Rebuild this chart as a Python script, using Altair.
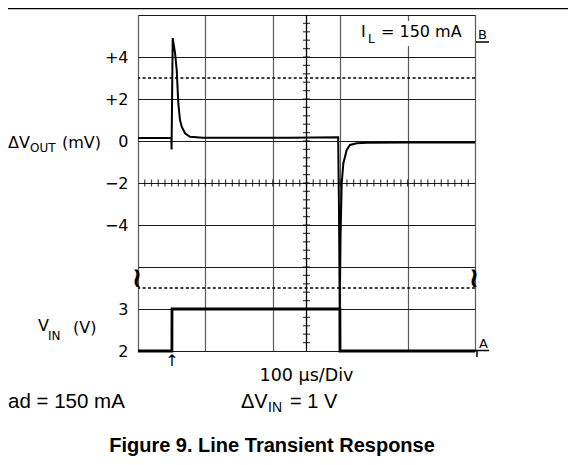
import altair as alt
import pandas as pd

# ---------------- data ----------------
# Delta V_OUT trace : time (us) / mV
out_t = [0, 50, 99.0, 99.6, 101.5, 103.0, 109.8, 114.8, 119.6, 124.6, 129.7, 139.5,
         154.3, 193.0, 300, 450, 594.0, 596.5, 598.5, 601.0, 604.5, 609.4, 619.3,
         629.0, 649.0, 678.6, 800, 1000]
out_mv = [0.14, 0.14, 0.14, -0.40, 2.60, 4.90, 4.20, 3.40, 1.80, 1.00, 0.68, 0.37,
          0.20, 0.16, 0.15, 0.16, 0.18, -3.50, -8.00, -4.50, -2.00, -1.06, -0.43,
          -0.19, -0.11, -0.08, -0.07, -0.07]
# V_IN trace : time (us) / V
in_t = [0, 100.6, 100.9, 599.0, 599.4, 1000]
in_v = [2.0, 2.0, 3.0, 3.0, 2.0, 2.0]

# graticule: 10 divisions of 100 us, 8 divisions (2 mV/div upper, 1 V/div lower)
x_grid = [0, 100, 200, 300, 400, 500, 600, 700, 800, 900, 1000]
y_grid = [0, 1, 2, 3, 4, 5, 6, 7, 8]
y_labels = ["2", "3", "", "\u22124", "\u22122", "0", "+2", "+4", ""]
dotted_mv = [3.0]
dotted_v = [3.5]

W, H = 337, 336
FONT = "DejaVu Sans"

out_df = pd.DataFrame({"t": out_t, "mv": out_mv, "i": range(len(out_t))})
in_df = pd.DataFrame({"t": in_t, "v": in_v, "i": range(len(in_t))})

xs = alt.Scale(domain=[0, 1000], nice=False, zero=False)
ys = alt.Scale(domain=[0, 8], nice=False, zero=False)

label_expr = "''"
for v, lab in reversed(list(zip(y_grid, y_labels))):
    label_expr = f"datum.value == {v} ? '{lab}' : ({label_expr})"

vin_line = alt.Chart(in_df).transform_calculate(
    div="datum.v - 2"
).mark_line(color="black", strokeWidth=2.8).encode(
    x=alt.X("t:Q", scale=xs, axis=alt.Axis(values=x_grid, grid=True, gridColor="#5a5a5a",
                                           gridWidth=1.2, labels=False, ticks=False,
                                           domain=False, title=None)),
    y=alt.Y("div:Q", scale=ys, axis=alt.Axis(values=y_grid, grid=True, gridColor="#1a1a1a",
                                             gridWidth=1.2, ticks=False, domain=False,
                                             labelExpr=label_expr, labelFont=FONT,
                                             labelFontSize=16, labelColor="black",
                                             labelPadding=10, title=None)),
    order="i:Q",
)

vout_line = alt.Chart(out_df).transform_calculate(
    div="5 + datum.mv / 2"
).mark_line(color="black", strokeWidth=2).encode(
    x=alt.X("t:Q", scale=xs), y=alt.Y("div:Q", scale=ys), order="i:Q"
)

dot_df = pd.DataFrame({"div": [5 + m / 2 for m in dotted_mv] + [v - 2 for v in dotted_v]})
dotted = alt.Chart(dot_df).mark_rule(color="black", strokeWidth=1.7, strokeDash=[3, 2.4]).encode(
    y=alt.Y("div:Q", scale=ys)
)

# minor ticks of the centre graticule lines (0.2 division)
cy_df = pd.DataFrame({"t": [500] * 39, "div": [k * 0.2 for k in range(1, 40)]})
cx_df = pd.DataFrame({"t": [k * 20 for k in range(1, 50)], "div": [4] * 49})
ticks_v = alt.Chart(cy_df).mark_tick(orient="horizontal", size=7, thickness=1.3, color="black").encode(
    x=alt.X("t:Q", scale=xs), y=alt.Y("div:Q", scale=ys))
ticks_h = alt.Chart(cx_df).mark_tick(orient="vertical", size=7, thickness=1.3, color="black").encode(
    x=alt.X("t:Q", scale=xs), y=alt.Y("div:Q", scale=ys))
centre_v = alt.Chart(pd.DataFrame({"t": [500]})).mark_rule(color="black", strokeWidth=1.3).encode(
    x=alt.X("t:Q", scale=xs))

one = pd.DataFrame({"a": [0]})
OX, OY = 138, 15  # page position of the plot origin


def txt(s, px, py, size=16, font=FONT, weight="normal", align="left", baseline="alphabetic"):
    return alt.Chart(one).mark_text(text=s, font=font, fontSize=size, fontWeight=weight,
                                    align=align, baseline=baseline, color="black").encode(
        x=alt.value(px - OX), y=alt.value(py - OY))


def rule(x1, x2, y1, y2, w=1.5):
    return alt.Chart(one).mark_rule(color="black", strokeWidth=w).encode(
        x=alt.value(x1 - OX), x2=alt.value(x2 - OX), y=alt.value(y1 - OY), y2=alt.value(y2 - OY))


box = alt.Chart(one).mark_rect(color="white").encode(
    x=alt.value(359 - OX), x2=alt.value(468 - OX), y=alt.value(21 - OY), y2=alt.value(46 - OY))

annotations = [
    box,
    txt("I", 361, 37), txt("L", 368, 43, size=12), txt("= 150 mA", 381, 37),
    txt("B", 478, 39, size=13), rule(476, 489, 42, 42, 1.5),
    txt("A", 479, 348, size=13), rule(475, 489, 350.5, 350.5, 1.5), rule(477, 477, 351, 357, 1.5),
    txt("\u2191", 172, 353, size=16, align="center", baseline="top"),
    txt("\u2240", 137, 279, size=28, weight="bold", align="center", baseline="middle"),
    txt("\u2240", 474, 279, size=28, weight="bold", align="center", baseline="middle"),
    txt("\u0394V", 8, 148), txt("OUT", 30, 152, size=12), txt("(mV)", 62, 148),
    txt("V", 38, 331), txt("IN", 48, 340, size=12), txt("(V)", 73, 333),
    txt("100 \u03bcs/Div", 306.5, 381, size=17.5, align="center"),
    txt("ad = 150 mA", 8, 408, size=20.5, font="Liberation Sans"),
    txt("\u0394V", 241, 408, size=20, font="Liberation Sans"),
    txt("IN", 268, 412, size=14, font="Liberation Sans"),
    txt("= 1 V", 290, 408, size=20, font="Liberation Sans"),
    txt("Figure 9. Line Transient Response", 272, 452, size=20, font="Liberation Sans",
        weight="bold", align="center"),
    rule(8, 568, 8.5, 8.5, 1.6),
]

chart = alt.layer(
    vin_line, dotted, centre_v, ticks_v, ticks_h, vout_line, *annotations
).properties(
    width=W, height=H, autosize="none",
    padding={"left": OX - 8, "top": OY - 8, "right": 93, "bottom": 106},
).configure_view(stroke="black", strokeWidth=2).configure(background="white")

chart.save("out.html", embed_options={"renderer": "svg", "actions": False})
